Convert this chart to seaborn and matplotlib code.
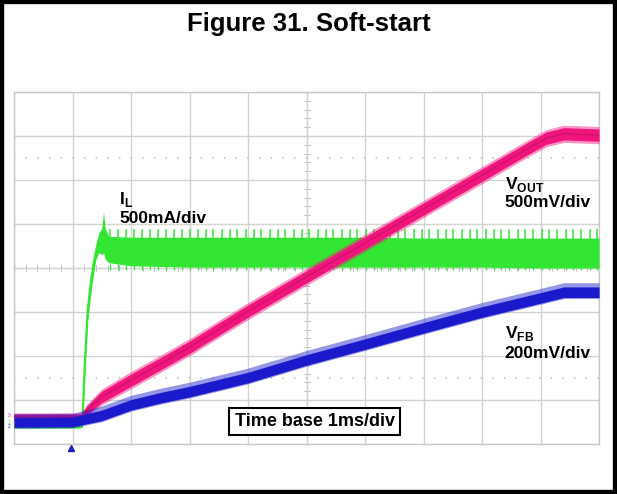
import matplotlib
matplotlib.use('Agg')
import matplotlib.pyplot as plt
import seaborn as sns
import numpy as np
from matplotlib.patches import Rectangle

# time in ms (1 ms/div), amplitude in screen divisions (0 = bottom of graticule)
vout_t = [0, 1.15, 1.25, 1.5, 2, 2.5, 3, 4, 5, 6, 7, 8, 8.8, 9.1, 9.4, 10]
vout_div = [0.61, 0.61, 0.77, 1.07, 1.45, 1.82, 2.2, 3.02, 3.8, 4.57, 5.34, 6.11, 6.73, 6.95, 7.05, 7.02]
vout_half = [0.07, 0.07, 0.1, 0.13, 0.14, 0.14, 0.14, 0.14, 0.14, 0.14, 0.14, 0.14, 0.14, 0.14, 0.14, 0.14]

vfb_t = [0, 1.0, 1.5, 2, 2.5, 3, 4, 5, 6, 7, 8, 9, 9.4, 10]
vfb_div = [0.49, 0.50, 0.65, 0.89, 1.05, 1.19, 1.51, 1.91, 2.27, 2.64, 3.0, 3.32, 3.45, 3.45]
vfb_half = [0.11, 0.11, 0.12, 0.12, 0.12, 0.12, 0.12, 0.12, 0.12, 0.12, 0.12, 0.12, 0.12, 0.12]

il_t = [0, 1.10, 1.17, 1.21, 1.26, 1.33, 1.40, 1.45, 1.50, 1.53, 1.56, 1.62, 2.0, 3, 4, 5, 6, 7, 8, 9, 10]
il_lo = [0.36, 0.36, 0.38, 1.5, 2.8, 3.6, 4.2, 4.35, 4.3, 4.35, 4.2, 4.12, 4.05, 4.02, 4.02, 4.02, 4.02, 4.02, 4.02, 4.0, 4.0]
il_hi = [0.44, 0.44, 0.6, 2.2, 3.3, 4.1, 4.55, 4.8, 4.9, 5.27, 4.9, 4.72, 4.70, 4.70, 4.70, 4.70, 4.70, 4.68, 4.68, 4.68, 4.68]

# switching spikes on the inductor current
il_spike_t = [1.64, 1.78, 1.91, 2.05, 2.18, 2.32, 2.46, 2.59, 2.73, 2.87, 3.00, 3.14, 3.28,
              3.41, 3.55, 3.69, 3.82, 3.96, 4.10, 4.23, 4.37, 4.51, 4.64, 4.78, 4.92, 5.05,
              5.19, 5.33, 5.46, 5.60, 5.74, 5.87, 6.01, 6.15, 6.28, 6.42, 6.56, 6.69, 6.83,
              6.97, 7.10, 7.24, 7.38, 7.51, 7.65, 7.79, 7.92, 8.06, 8.20, 8.33, 8.47, 8.61,
              8.74, 8.88, 9.02, 9.15, 9.29, 9.43, 9.56, 9.70, 9.84, 9.97]
il_spike_top = 4.88
il_spike_bottom = 3.95

trigger_t = 0.97

pink = '#f0157d'
blue = '#1a1acc'
green = '#33e633'
grid_col = '#d2d2d2'

sns.set_style('white')
plt.rcParams['font.family'] = ['Liberation Sans', 'DejaVu Sans']
plt.rcParams['text.color'] = 'black'
plt.rcParams['mathtext.fontset'] = 'custom'
plt.rcParams['mathtext.bf'] = 'Liberation Sans:bold'
plt.rcParams['mathtext.rm'] = 'Liberation Sans'

fig = plt.figure(figsize=(6.17, 4.94), dpi=100)
ax = fig.add_axes([14 / 617, 1 - 444 / 494, 585 / 617, 352 / 494])
ax.set_xlim(0, 10)
ax.set_ylim(0, 8)

# graticule
ax.set_xticks(range(11))
ax.set_yticks(range(9))
ax.grid(True, color=grid_col, lw=1)
ax.tick_params(length=0, labelbottom=False, labelleft=False)
for s in ax.spines.values():
    s.set_color('#c8c8c8')
    s.set_linewidth(1)
for yy in [1.5, 6.5]:
    ax.axhline(yy, color='#bbbbbb', lw=1.2, ls=(0, (0.8, 6.2)))

sec_x = ax.secondary_xaxis(0.5)
sec_x.set_xticks(range(11))
sec_x.xaxis.set_minor_locator(matplotlib.ticker.MultipleLocator(0.2))
sec_x.tick_params(which='both', direction='inout', length=4, color='#aaaaaa',
                  labelbottom=False, labeltop=False)
for s in sec_x.spines.values():
    s.set_color('#b0b0b0')

sec_y = ax.secondary_yaxis(0.5)
sec_y.set_yticks(range(9))
sec_y.yaxis.set_minor_locator(matplotlib.ticker.MultipleLocator(0.2))
sec_y.tick_params(which='both', direction='inout', length=4, color='#aaaaaa',
                  labelleft=False, labelright=False)
for s in sec_y.spines.values():
    s.set_color('#b0b0b0')

# inductor current (green)
ax.fill_between(il_t, il_lo, il_hi, color=green, lw=0, zorder=3)
il_mid = [(a + b) / 2 for a, b in zip(il_lo, il_hi)]
sns.lineplot(x=il_t[:6], y=il_mid[:6], color=green, lw=1.5, ax=ax, zorder=3)
ax.vlines(il_spike_t, 4.6, il_spike_top, color=green, lw=1.1, zorder=3)
ax.vlines(il_spike_t, il_spike_bottom, 4.1, color=green, lw=0.9, zorder=3)

# VOUT (pink)
vout_c = np.array(vout_div)
vout_h = np.array(vout_half)
ax.fill_between(vout_t, vout_c - vout_h * 1.4, vout_c + vout_h * 1.4, color=pink, alpha=0.45, lw=0, zorder=4)
ax.fill_between(vout_t, vout_c - vout_h, vout_c + vout_h, color=pink, lw=0, zorder=4)
sns.lineplot(x=vout_t, y=vout_div, color='#d0106a', lw=1, ax=ax, zorder=4)

# VFB (blue)
vfb_c = np.array(vfb_div)
vfb_h = np.array(vfb_half)
ax.fill_between(vfb_t, vfb_c - vfb_h * 1.2, vfb_c + vfb_h * 1.8, color=blue, alpha=0.45, lw=0, zorder=5)
ax.fill_between(vfb_t, vfb_c - vfb_h, vfb_c + vfb_h, color=blue, lw=0, zorder=5)

# trigger marker and channel markers
ax.plot([trigger_t], [-0.1], marker='^', ms=5, color=blue, clip_on=False, zorder=6)
ax.text(-0.08, 0.65, '3', color=pink, fontsize=3.5, ha='center', va='center', clip_on=False)
ax.text(-0.08, 0.5, '1', color=green, fontsize=3.5, ha='center', va='center', clip_on=False)
ax.text(-0.08, 0.4, '2', color=blue, fontsize=3.5, ha='center', va='center', clip_on=False)

# annotations
fs = 12.5
ax.text(1.795, 5.45, r'$\mathbf{I}_{\mathbf{L}}$', fontsize=fs, va='baseline', zorder=7)
ax.text(1.795, 5.02, '500mA/div', fontsize=fs, fontweight='bold', va='baseline', zorder=7)
ax.text(8.39, 5.80, r'$\mathbf{V}_{\mathbf{OUT}}$', fontsize=fs, va='baseline', zorder=7)
ax.text(8.39, 5.39, '500mV/div', fontsize=fs, fontweight='bold', va='baseline', zorder=7)
ax.text(8.39, 2.41, r'$\mathbf{V}_{\mathbf{FB}}$', fontsize=fs, va='baseline', zorder=7)
ax.text(8.39, 1.95, '200mV/div', fontsize=fs, fontweight='bold', va='baseline', zorder=7)
ax.text(5.14, 0.51, 'Time base 1ms/div', fontsize=13, fontweight='bold', ha='center', va='center',
        zorder=8, bbox=dict(boxstyle='square,pad=0.3', fc='white', ec='black', lw=1.5))

fig.text(0.5, 1 - 24 / 494, 'Figure 31. Soft-start', fontsize=18.5, fontweight='bold',
         ha='center', va='center')
fig.add_artist(Rectangle((0, 0), 1, 1, transform=fig.transFigure, fill=False, ec='black', lw=6))

fig.savefig('out.png', dpi=100)
